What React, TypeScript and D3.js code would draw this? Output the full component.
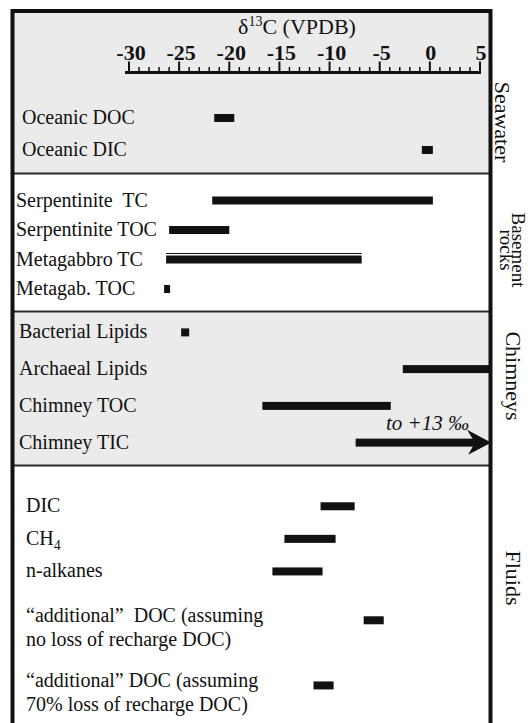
import React, { useEffect, useRef } from 'react';
import * as d3 from 'd3';

const W = 531;
const H = 723;

// right-hand group labels, top to bottom
const groupNames = [['Seawater'], ['Basement', 'rocks'], ['Chimneys'], ['Fluids']];

// rows of each group (label lines) and their d13C ranges in permil
const seawaterRows = [['Oceanic DOC'], ['Oceanic DIC']];
const seawaterRanges = [[-21.5, -19.5], [-0.8, 0.3]];

const basementRows = [['Serpentinite  TC'], ['Serpentinite TOC'], ['Metagabbro TC'], ['Metagab. TOC']];
const basementRanges = [[-21.7, 0.3], [-26, -20], [-26.3, -6.8], [-26.5, -25.9]];

const chimneyRows = [['Bacterial Lipids'], ['Archaeal Lipids'], ['Chimney TOC'], ['Chimney TIC']];
const chimneyRanges = [[-24.8, -24], [-2.7, 6], [-16.7, -3.9], [-7.4, 6.1]];

const fluidRows = [
  ['DIC'],
  ['CH4'],
  ['n-alkanes'],
  ['“additional”  DOC (assuming', 'no loss of recharge DOC)'],
  ['“additional” DOC (assuming', '70% loss of recharge DOC)'],
];
const fluidRanges = [[-10.9, -7.5], [-14.5, -9.4], [-15.7, -10.7], [-6.6, -4.6], [-11.6, -9.6]];

const doubleRows = ['Metagabbro TC'];
const arrowRows = ['Chimney TIC'];
const arrowNote = 'to +13 ‰';

const xDomain = [-30, 5];
const xTicks = [-30, -25, -20, -15, -10, -5, 0, 5];

// layout of the four panels (page pixels)
const panels = [
  { rows: seawaterRows, ranges: seawaterRanges, top: 13, bottom: 173.5, fill: '#ebebeb', rowRange: [102, 166], labelX: 22, nameX: 495, nameY: 122, nameSize: 22 },
  { rows: basementRows, ranges: basementRanges, top: 173.5, bottom: 311.5, fill: '#ffffff', rowRange: [185.75, 303.75], labelX: 16, nameX: 512, nameY: 250, nameSize: 19 },
  { rows: chimneyRows, ranges: chimneyRanges, top: 311.5, bottom: 465.5, fill: '#ebebeb', rowRange: [314, 461], labelX: 19, nameX: 506, nameY: 376, nameSize: 22 },
  { rows: fluidRows, ranges: fluidRanges, top: 465.5, bottom: 740, fill: '#ffffff', rowRange: [490, 718], labelX: 26, nameX: 506, nameY: 578, nameSize: 22 },
];

const FONT = '"Liberation Serif", "Times New Roman", serif';

const App = () => {
  const ref = useRef(null);

  useEffect(() => {
    const svg = d3.select(ref.current);
    svg.selectAll('*').remove();

    const boxL = 12.5;
    const boxR = 490.5;
    const boxT = 11;

    const x = d3.scaleLinear().domain(xDomain).range([129, 480]);

    svg.append('defs').append('clipPath').attr('id', 'plotclip')
      .append('rect').attr('x', boxL).attr('y', boxT).attr('width', boxR - boxL).attr('height', H);

    // panels
    panels.forEach((p, gi) => {
      svg.append('rect')
        .attr('x', boxL).attr('y', p.top)
        .attr('width', boxR - boxL).attr('height', p.bottom - p.top)
        .attr('fill', p.fill);
      if (gi > 0) {
        svg.append('line')
          .attr('x1', boxL).attr('x2', boxR)
          .attr('y1', p.top).attr('y2', p.top)
          .attr('stroke', '#2a2a2a').attr('stroke-width', 2);
      }
    });

    const plot = svg.append('g').attr('clip-path', 'url(#plotclip)');

    panels.forEach((p, gi) => {
      const counts = p.rows.map(r => r.length);
      const total = d3.sum(counts);
      const y = d3.scaleLinear().domain([0, total]).range(p.rowRange);
      let cum = 0;
      p.rows.forEach((lines, i) => {
        const cy = y(cum + counts[i] / 2);
        cum += counts[i];
        const [lo, hi] = p.ranges[i];
        const name = lines[0];

        // label
        const lh = 24;
        const firstBase = lines.length > 1 ? cy + 2 : cy + 6;
        lines.forEach((ln, li) => {
          const t = svg.append('text')
            .attr('x', p.labelX)
            .attr('y', firstBase + li * lh)
            .attr('font-family', FONT)
            .attr('font-size', 20)
            .attr('fill', '#111')
            .style('white-space', 'pre');
          const m = ln.match(/^([A-Z]+)(\d)$/);
          if (m) {
            t.append('tspan').text(m[1]);
            t.append('tspan').attr('font-size', 14).attr('dy', 5).text(m[2]);
          } else {
            t.text(ln);
          }
        });

        const bh = 8;
        if (arrowRows.includes(name)) {
          const tip = x(hi);
          const notch = tip - 16;
          plot.append('rect')
            .attr('x', x(lo)).attr('y', cy - bh / 2)
            .attr('width', notch - x(lo) + 2).attr('height', bh)
            .attr('fill', '#111');
          plot.append('path')
            .attr('d', `M${tip},${cy} L${tip - 24},${cy - 13} L${notch},${cy} L${tip - 23},${cy + 12} Z`)
            .attr('fill', '#111');
          svg.append('text')
            .attr('x', x(hi) - 22).attr('y', cy - 13)
            .attr('text-anchor', 'end')
            .attr('font-family', FONT)
            .attr('font-style', 'italic')
            .attr('font-size', 21)
            .attr('fill', '#111')
            .text(arrowNote);
        } else {
          plot.append('rect')
            .attr('x', x(lo)).attr('y', cy - bh / 2)
            .attr('width', x(hi) - x(lo)).attr('height', bh)
            .attr('fill', '#111');
          if (doubleRows.includes(name)) {
            plot.append('line')
              .attr('x1', x(lo)).attr('x2', x(hi))
              .attr('y1', cy - bh / 2 - 2).attr('y2', cy - bh / 2 - 2)
              .attr('stroke', '#111').attr('stroke-width', 1.2);
          }
        }
      });

      // group name on the right, rotated
      const g = svg.append('g').attr('transform', `translate(${p.nameX},${p.nameY}) rotate(90)`);
      groupNames[gi].forEach((ln, li) => {
        g.append('text')
          .attr('x', 0).attr('y', li * 12)
          .attr('text-anchor', 'middle')
          .attr('font-family', FONT)
          .attr('font-size', p.nameSize)
          .attr('fill', '#111')
          .text(ln);
      });
    });

    // axis on top
    const axisY = 72.5;
    const ax = svg.append('g');
    ax.append('line')
      .attr('x1', x(xDomain[0]) - 4).attr('x2', x(xDomain[1]) + 1)
      .attr('y1', axisY).attr('y2', axisY)
      .attr('stroke', '#111').attr('stroke-width', 3);
    d3.range(xDomain[0], xDomain[1] + 1, 1).forEach(v => {
      const major = xTicks.includes(v);
      ax.append('line')
        .attr('x1', x(v)).attr('x2', x(v))
        .attr('y1', axisY).attr('y2', major ? axisY - 11 : axisY - 5.5)
        .attr('stroke', '#111').attr('stroke-width', major ? 2 : 1.5);
    });
    xTicks.forEach(v => {
      ax.append('text')
        .attr('x', x(v) + (v < 0 ? 2 : 1)).attr('y', 60)
        .attr('text-anchor', 'middle')
        .attr('font-family', FONT)
        .attr('font-weight', 'bold')
        .attr('font-size', 22)
        .attr('fill', '#111')
        .text(String(v));
    });
    const title = ax.append('text')
      .attr('x', 297).attr('y', 34)
      .attr('text-anchor', 'middle')
      .attr('font-family', FONT)
      .attr('font-size', 22)
      .attr('fill', '#111');
    title.append('tspan').text('δ');
    title.append('tspan').attr('font-size', 14).attr('dy', -8).text('13');
    title.append('tspan').attr('dy', 8).text('C (VPDB)');

    // frame
    svg.append('path')
      .attr('d', `M${boxL},${H + 10} L${boxL},${boxT} L${boxR},${boxT} L${boxR},${H + 10}`)
      .attr('fill', 'none')
      .attr('stroke', '#111')
      .attr('stroke-width', 4);
  }, []);

  return (
    <svg ref={ref} width={W} height={H} style={{ position: 'absolute', left: 0, top: 0, background: '#fff' }} />
  );
};

export default App;
